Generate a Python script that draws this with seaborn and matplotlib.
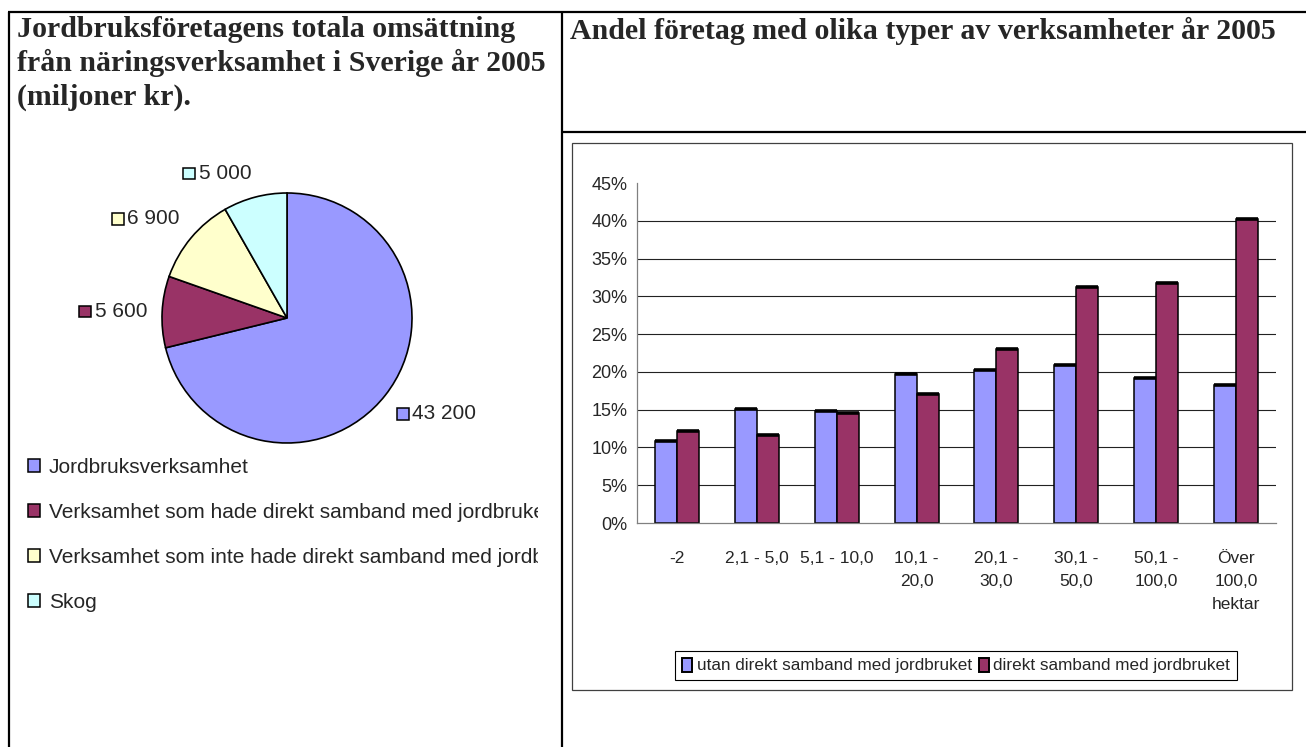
"""jordbruksföretag 2005: omsättning (cirkel) och andel företag per storleksklass (stapel)"""

import numpy as np
import pandas as pd
import matplotlib.pyplot as plt
import matplotlib.patches as mpatches
from matplotlib.lines import Line2D
from matplotlib.offsetbox import AnnotationBbox, DrawingArea, HPacker, TextArea
import seaborn as sns

# --- data ---
pie_labels = [
    "Jordbruksverksamhet",
    "Verksamhet som hade direkt samband med jordbruket",
    "Verksamhet som inte hade direkt samband med jordbruket",
    "Skog",
]
pie_values = [43200, 5600, 6900, 5000]
pie_texts = ["43 200", "5 600", "6 900", "5 000"]
pie_colors = ["#9999FF", "#993366", "#FFFFCC", "#CCFFFF"]

klasser = ["-2", "2,1 - 5,0", "5,1 - 10,0", "10,1 -\n20,0", "20,1 -\n30,0",
           "30,1 -\n50,0", "50,1 -\n100,0", "Över\n100,0\nhektar"]
serier = ["utan direkt samband med jordbruket", "direkt samband med jordbruket"]
utan_samband = [10.9, 15.1, 14.8, 19.7, 20.2, 20.9, 19.2, 18.3]
med_samband = [12.2, 11.7, 14.5, 17.1, 23.0, 31.3, 31.8, 40.3]
bar_colors = ["#9999FF", "#993366"]
yticks = [0, 5, 10, 15, 20, 25, 30, 35, 40, 45]

W, H = 1306, 747


def fx(x):
    return x / W


def fy(y):
    return 1 - y / H


sns.set_style("white")
chart_font = ["Liberation Sans Narrow", "Liberation Sans", "DejaVu Sans"]
plt.rcParams["font.family"] = ["Liberation Sans", "DejaVu Sans"]

fig = plt.figure(figsize=(W / 100, H / 100), dpi=100, facecolor="white")

# --- table lines ---
tbl = dict(color="black", lw=1.6, transform=fig.transFigure, solid_capstyle="butt")
fig.add_artist(Line2D([fx(8), 1], [fy(12), fy(12)], **tbl))
fig.add_artist(Line2D([fx(9), fx(9)], [fy(12), 0], **tbl))
fig.add_artist(Line2D([fx(562), fx(562)], [fy(12), 0], **tbl))
fig.add_artist(Line2D([fx(562), 1], [fy(132), fy(132)], **tbl))

title_kw = dict(family=["Liberation Serif", "DejaVu Serif"], weight="bold",
                fontsize=21.5, va="top", ha="left")
fig.text(fx(17), fy(16), "Jordbruksföretagens totala omsättning\n"
         "från näringsverksamhet i Sverige år 2005\n(miljoner kr).",
         linespacing=1.28, **title_kw)
fig.text(fx(570), fy(17), "Andel företag med olika typer av verksamheter år 2005",
         **title_kw)

# --- pie chart ---
pax = fig.add_axes([fx(10), fy(640), (538 - 10) / W, (640 - 140) / H])
wedges, _ = pax.pie(pie_values, colors=pie_colors, startangle=90, counterclock=False,
                    wedgeprops=dict(edgecolor="black", linewidth=1.2))
pax.set_aspect("auto")
pax.set_xlim((10 - 287) / 125, (538 - 287) / 125)
pax.set_ylim(-(640 - 318) / 125, (318 - 140) / 125)
pax.axis("off")

for w, txt, col in zip(wedges, pie_texts, pie_colors):
    mid = np.deg2rad((w.theta1 + w.theta2) / 2)
    c, s = np.cos(mid), np.sin(mid)
    hx = 1.0 if c < -0.2 else (0.0 if c > 0.2 else 0.5)
    vy = 0.0 if s > 0.5 else (1.0 if s < -0.5 else 0.5)
    da = DrawingArea(9, 9)
    da.add_artist(mpatches.Rectangle((0, 0), 8.5, 8.5, facecolor=col,
                                     edgecolor="black", lw=1.1))
    ta = TextArea(txt, textprops=dict(fontsize=15))
    box = HPacker(children=[da, ta], align="center", pad=0, sep=2)
    ab = AnnotationBbox(box, (1.12 * c, 1.12 * s), box_alignment=(hx, vy),
                        frameon=False, pad=0)
    pax.add_artist(ab)

pie_handles = [mpatches.Patch(facecolor=col, edgecolor="black", lw=1.1) for col in pie_colors]
pleg = pax.legend(pie_handles, pie_labels, loc="upper left",
                  bbox_to_anchor=(fx(28), fy(458)), bbox_transform=fig.transFigure,
                  frameon=False, fontsize=15, borderpad=0, borderaxespad=0,
                  handlelength=0.58, handleheight=0.58, handletextpad=0.42,
                  labelspacing=1.25)
for t in pleg.get_texts():
    t.set_clip_box(pax.bbox)
    t.set_clip_on(True)

# --- bar chart ---
fig.add_artist(mpatches.Rectangle((fx(572), fy(690)), (1292 - 572) / W, (690 - 143) / H,
                                  transform=fig.transFigure, fill=False,
                                  edgecolor="#404040", lw=0.9))

df = pd.DataFrame({
    "klass": klasser * 2,
    "serie": [serier[0]] * len(klasser) + [serier[1]] * len(klasser),
    "andel": utan_samband + med_samband,
})

bax = fig.add_axes([fx(637), fy(523), (1276 - 637) / W, (523 - 183) / H])
sns.barplot(data=df, x="klass", y="andel", hue="serie", order=klasser, hue_order=serier,
            palette=bar_colors, width=0.55, edgecolor="black", linewidth=1.1,
            saturation=1, ax=bax)

for p in bax.patches:
    if p.get_height() > 0:
        x0 = p.get_x()
        bax.plot([x0, x0 + p.get_width()], [p.get_height()] * 2, color="black",
                 lw=2.6, solid_capstyle="butt", zorder=5)

bax.hlines(yticks[1:-1], -0.5, len(klasser) - 0.5, color="#222222", lw=0.8, zorder=0)
bax.set_xlim(-0.5, len(klasser) - 0.5)
bax.set_ylim(0, 45)
bax.set_yticks(yticks)
bax.set_yticklabels([f"{v}%" for v in yticks], family=chart_font, fontsize=13)
bax.set_xticks(range(len(klasser)))
bax.set_xticklabels(klasser, family=chart_font, fontsize=12.5, linespacing=1.68, va="top")
bax.set_xticks(np.arange(-0.5, len(klasser), 1), minor=True)
bax.tick_params(axis="x", which="major", length=0, pad=20)
bax.tick_params(axis="x", which="minor", length=4, color="#808080", width=0.9, direction="out")
bax.tick_params(axis="y", length=4, color="#808080", width=0.9, direction="out", pad=3)
bax.set_xlabel("")
bax.set_ylabel("")
for side in ["top", "right"]:
    bax.spines[side].set_visible(False)
for side in ["left", "bottom"]:
    bax.spines[side].set_color("#808080")
    bax.spines[side].set_linewidth(0.9)
bax.set_facecolor("none")

bar_handles = [mpatches.Patch(facecolor=col, edgecolor="black", lw=1.4) for col in bar_colors]
bleg = bax.legend(bar_handles, serier, loc="center",
                  bbox_to_anchor=(fx(956), fy(665.5)), bbox_transform=fig.transFigure,
                  ncol=2, fancybox=False, edgecolor="black", framealpha=1,
                  prop=dict(family=chart_font, size=12.3), borderpad=0.4,
                  handlelength=0.6, handleheight=0.9, handletextpad=0.25,
                  columnspacing=0.4)
bleg.get_frame().set_linewidth(0.8)

fig.savefig("out.png", dpi=100, facecolor="white")
plt.close(fig)
